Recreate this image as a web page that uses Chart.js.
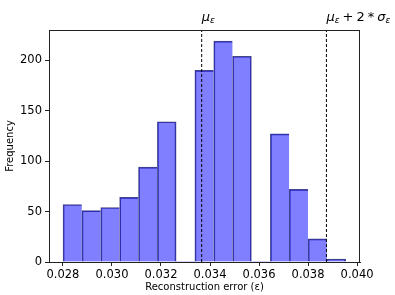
<!DOCTYPE html>
<html>
<head>
<meta charset="utf-8">
<script src="https://cdn.jsdelivr.net/npm/chart.js@4"></script>
<style>
html,body{margin:0;padding:0;background:#fff;}
#wrap{width:395px;height:295px;position:relative;}
</style>
</head>
<body>
<div id="wrap"><canvas id="c" width="395" height="295"></canvas></div>
<script>
// Histogram bin edges (reconstruction error) and counts per bin
const binEdges = [0.02800, 0.02877, 0.02954, 0.03031, 0.03108, 0.03185, 0.03262, 0.03338,
                  0.03415, 0.03492, 0.03569, 0.03646, 0.03723, 0.03800, 0.03877, 0.03954];
const counts = [57, 51, 54, 64, 94, 139, 0, 190, 219, 204, 0, 127, 72, 23, 3];
// Reference lines
const muValue = 0.03366;
const mu2SigmaValue = 0.03875;
// Axis ticks
const xTicks = [0.028, 0.030, 0.032, 0.034, 0.036, 0.038, 0.040];
const yTicks = [0, 50, 100, 150, 200];
const xRange = [0.02743, 0.04012];
const yRange = [0, 230];

const barData = counts.map((c, i) => ({x: (binEdges[i] + binEdges[i + 1]) / 2, y: c}));

const framePlugin = {
  id: 'frame',
  afterDatasetsDraw(chart) {
    const {ctx, chartArea: a} = chart;
    ctx.save();
    ctx.strokeStyle = '#222';
    ctx.lineWidth = 1;
    ctx.strokeRect(Math.round(a.left) + 0.5, Math.round(a.top) + 0.5,
                   Math.round(a.right - a.left) - 1, Math.round(a.bottom - a.top));
    ctx.restore();
  }
};

function drawMath(ctx, x, y, parts) {
  let cx = x;
  for (const p of parts) {
    if (p.gap) { cx += p.gap; continue; }
    ctx.font = (p.italic ? 'italic ' : '') + p.size + 'px "DejaVu Sans"';
    ctx.fillText(p.t, cx, y + (p.dy || 0));
    cx += ctx.measureText(p.t).width;
  }
}

const labelPlugin = {
  id: 'mathLabels',
  afterDraw(chart) {
    const {ctx} = chart;
    const xs = chart.scales.x;
    ctx.save();
    ctx.fillStyle = '#000';
    ctx.textBaseline = 'alphabetic';
    ctx.textAlign = 'left';
    const base = 21;
    drawMath(ctx, xs.getPixelForValue(muValue), base, [
      {t: 'μ', italic: true, size: 13},
      {t: 'ε', italic: true, size: 9, dy: 2}
    ]);
    drawMath(ctx, xs.getPixelForValue(mu2SigmaValue), base, [
      {t: 'μ', italic: true, size: 13},
      {t: 'ε', italic: true, size: 9, dy: 2},
      {gap: 3},
      {t: '+', size: 13},
      {gap: 3},
      {t: '2', size: 13},
      {gap: 3},
      {t: '*', size: 13},
      {gap: 3},
      {t: 'σ', italic: true, size: 13},
      {t: 'ε', italic: true, size: 9, dy: 2}
    ]);
    ctx.restore();
  }
};

const edgeColor = 'rgb(70,70,135)';

new Chart(document.getElementById('c'), {
  data: {
    datasets: [
      {
        type: 'bar',
        data: barData,
        backgroundColor: 'rgba(0,0,255,0.5)',
        borderColor: edgeColor,
        borderWidth: ctx => {
          const i = ctx.dataIndex;
          if (!(counts[i] > 0)) return 0;
          const nextEmpty = i === counts.length - 1 || !(counts[i + 1] > 0);
          return {left: 1, top: 1, bottom: 0, right: nextEmpty ? 1 : 0};
        },
        borderSkipped: false,
        barPercentage: 1,
        categoryPercentage: 1,
        grouped: false,
        order: 2
      },
      {
        type: 'line',
        data: [{x: muValue, y: yRange[0]}, {x: muValue, y: yRange[1]}],
        borderColor: '#000',
        borderWidth: 1,
        borderDash: [3, 2],
        pointRadius: 0,
        order: 1
      },
      {
        type: 'line',
        data: [{x: mu2SigmaValue, y: yRange[0]}, {x: mu2SigmaValue, y: yRange[1]}],
        borderColor: '#000',
        borderWidth: 1,
        borderDash: [3, 2],
        pointRadius: 0,
        order: 1
      }
    ]
  },
  options: {
    responsive: false,
    animation: false,
    events: [],
    datasets: {bar: {barPercentage: 1, categoryPercentage: 1}},
    layout: {padding: {left: 0, right: 35, top: 30, bottom: 0}},
    plugins: {legend: {display: false}, tooltip: {enabled: false}},
    scales: {
      x: {
        type: 'linear',
        offset: false,
        min: xRange[0],
        max: xRange[1],
        afterBuildTicks: s => { s.ticks = xTicks.map(v => ({value: v})); },
        afterFit: s => { s.height = 33; },
        grid: {display: true, offset: false, drawOnChartArea: false, drawTicks: true, tickLength: 4, color: '#222'},
        border: {display: true, color: '#222', width: 1},
        ticks: {
          color: '#000',
          padding: 2,
          maxRotation: 0,
          autoSkip: false,
          font: {family: 'DejaVu Sans', size: 11.5},
          callback: v => Number(v).toFixed(3)
        },
        title: {
          display: true,
          text: 'Reconstruction error (ε)',
          color: '#000',
          font: {family: 'DejaVu Sans', size: 10},
          padding: {top: 0, bottom: 2}
        }
      },
      y: {
        type: 'linear',
        min: yRange[0],
        max: yRange[1],
        afterBuildTicks: s => { s.ticks = yTicks.map(v => ({value: v})); },
        afterFit: s => { s.width = 49; },
        grid: {display: true, drawOnChartArea: false, drawTicks: true, tickLength: 4, color: '#222'},
        border: {display: true, color: '#222', width: 1},
        ticks: {
          color: '#000',
          padding: 3,
          autoSkip: false,
          font: {family: 'DejaVu Sans', size: 11.5}
        },
        title: {
          display: true,
          text: 'Frequency',
          color: '#000',
          font: {family: 'DejaVu Sans', size: 10},
          padding: {top: 4, bottom: 0}
        }
      }
    }
  },
  plugins: [framePlugin, labelPlugin]
});
</script>
</body>
</html>
